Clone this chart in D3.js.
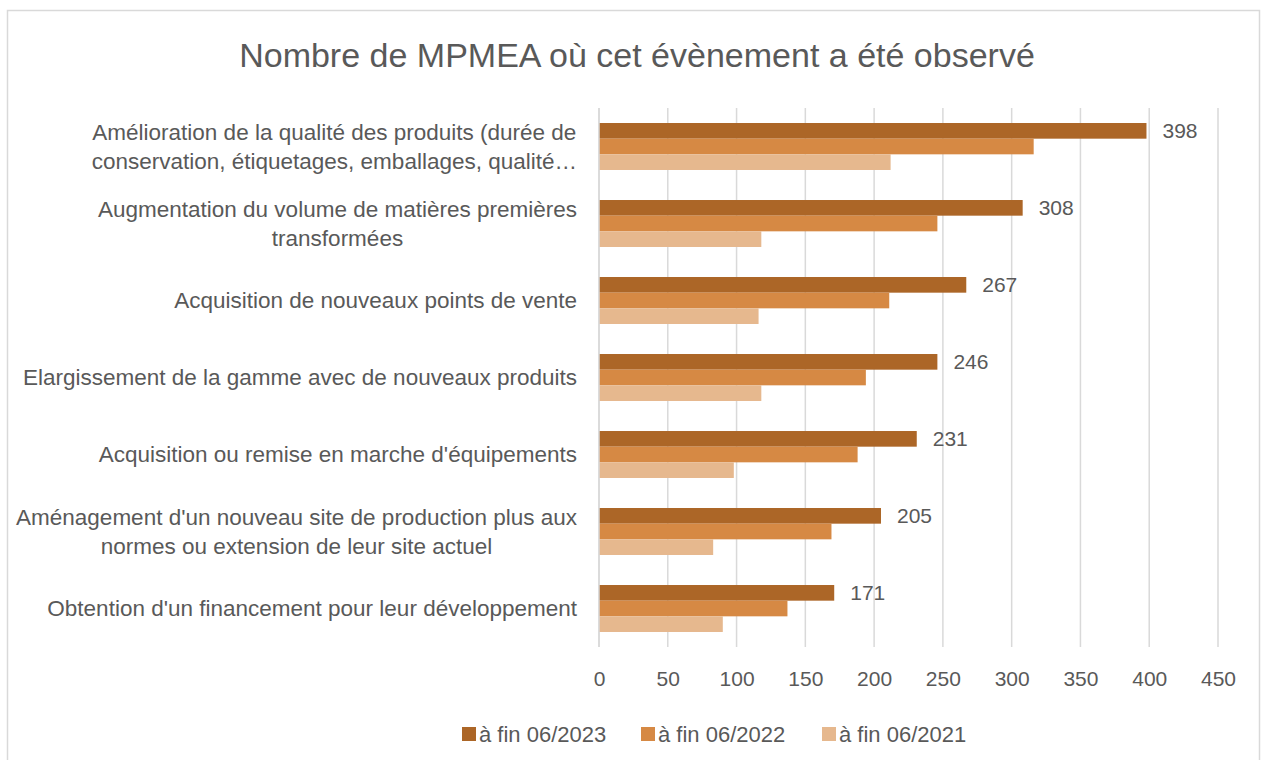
<!DOCTYPE html>
<html>
<head>
<meta charset="utf-8">
<script src="https://cdn.jsdelivr.net/npm/d3@7"></script>
<style>
  body { margin: 0; background: #fff; }
  text { font-family: "Liberation Sans", Arial, sans-serif; fill: #595959; }
</style>
</head>
<body>
<svg width="1268" height="760"></svg>
<script>
// categories, top to bottom (each entry = lines of the label)
var categories = [
  ["Amélioration de la qualité des produits (durée de", "conservation, étiquetages, emballages, qualité…"],
  ["Augmentation du volume de matières premières", "transformées"],
  ["Acquisition de nouveaux points de vente"],
  ["Elargissement de la gamme avec de nouveaux produits"],
  ["Acquisition ou remise en marche d'équipements"],
  ["Aménagement d'un nouveau site de production plus aux", "normes ou extension de leur site actuel"],
  ["Obtention d'un financement pour leur développement"]
];

var series = ["à fin 06/2023", "à fin 06/2022", "à fin 06/2021"];
var values2023 = [398, 308, 267, 246, 231, 205, 171];
var values2022 = [316, 246, 211, 194, 188, 169, 137];
var values2021 = [212, 118, 116, 118, 98, 83, 90];
var xTicks = [0, 50, 100, 150, 200, 250, 300, 350, 400, 450];
var colors = ["#ac6627", "#d68944", "#e6b88e"];

var allValues = [values2023, values2022, values2021];

var svg = d3.select("svg");

// chart frame
svg.append("rect")
  .attr("x", 7.5).attr("y", 10.5)
  .attr("width", 1252).attr("height", 760)
  .attr("fill", "#fff")
  .attr("stroke", "#d9d9d9")
  .attr("stroke-width", 1.5);

// title
svg.append("text")
  .attr("x", 637).attr("y", 67)
  .attr("text-anchor", "middle")
  .attr("font-size", 34)
  .text("Nombre de MPMEA où cet évènement a été observé");

var x = d3.scaleLinear().domain([0, 450]).range([599, 1218]);

var y = d3.scaleBand()
  .domain(d3.range(categories.length))
  .range([108, 647])
  .paddingInner(0.39)
  .paddingOuter(0.195);

var ySub = d3.scaleBand()
  .domain(d3.range(series.length))
  .range([0, y.bandwidth()]);

// gridlines
svg.append("g")
  .selectAll("line")
  .data(xTicks)
  .enter().append("line")
  .attr("x1", function(d) { return x(d); })
  .attr("x2", function(d) { return x(d); })
  .attr("y1", 108).attr("y2", 647)
  .attr("stroke", "#d9d9d9")
  .attr("stroke-width", 1.5);

// x axis tick labels
var xAxis = d3.axisBottom(x).tickValues(xTicks).tickSize(0).tickPadding(0);
var gx = svg.append("g")
  .attr("transform", "translate(0,686)")
  .call(xAxis);
gx.select(".domain").remove();
gx.selectAll("text")
  .attr("dy", 0)
  .attr("font-size", 21)
  .attr("fill", "#595959")
  .style("font-family", "Liberation Sans, Arial, sans-serif");

// bars
var groups = svg.append("g")
  .selectAll("g")
  .data(categories)
  .enter().append("g")
  .attr("transform", function(d, i) { return "translate(0," + y(i) + ")"; });

groups.selectAll("rect")
  .data(function(d, i) {
    return allValues.map(function(vals, s) { return {s: s, v: vals[i]}; });
  })
  .enter().append("rect")
  .attr("x", x(0))
  .attr("y", function(d) { return ySub(d.s); })
  .attr("width", function(d) { return x(d.v) - x(0); })
  .attr("height", ySub.bandwidth())
  .attr("fill", function(d) { return colors[d.s]; });

// value labels on 2023 series
groups.append("text")
  .attr("x", function(d, i) { return x(values2023[i]) + 16; })
  .attr("y", ySub(0) + ySub.bandwidth() / 2)
  .attr("dy", "0.35em")
  .attr("font-size", 21)
  .attr("fill", "#404040")
  .text(function(d, i) { return values2023[i]; });

// category labels, block right aligned, lines centered
var lineH = 29;
groups.each(function(lines) {
  var g = d3.select(this);
  var t = g.append("text")
    .attr("font-size", 22.5)
    .attr("text-anchor", "middle");
  var cy = y.bandwidth() / 2;
  var top = cy - (lines.length - 1) * lineH / 2;
  var spans = lines.map(function(l, k) {
    return t.append("tspan")
      .attr("y", top + k * lineH)
      .attr("dy", "0.35em")
      .text(l);
  });
  var maxW = d3.max(spans, function(s) { return s.node().getComputedTextLength(); });
  spans.forEach(function(s) { s.attr("x", 577 - maxW / 2); });
});

// left axis line
svg.append("line")
  .attr("x1", x(0)).attr("x2", x(0))
  .attr("y1", 108).attr("y2", 647)
  .attr("stroke", "#d9d9d9")
  .attr("stroke-width", 1.5);

// legend
var legendX = [462, 641, 822];
var legend = svg.append("g")
  .selectAll("g")
  .data(series)
  .enter().append("g")
  .attr("transform", function(d, i) { return "translate(" + legendX[i] + ",727)"; });

legend.append("rect")
  .attr("width", 14).attr("height", 14)
  .attr("fill", function(d, i) { return colors[i]; });

legend.append("text")
  .attr("x", 17).attr("y", 7)
  .attr("dy", "0.35em")
  .attr("font-size", 22)
  .text(function(d) { return d; });
</script>
</body>
</html>
